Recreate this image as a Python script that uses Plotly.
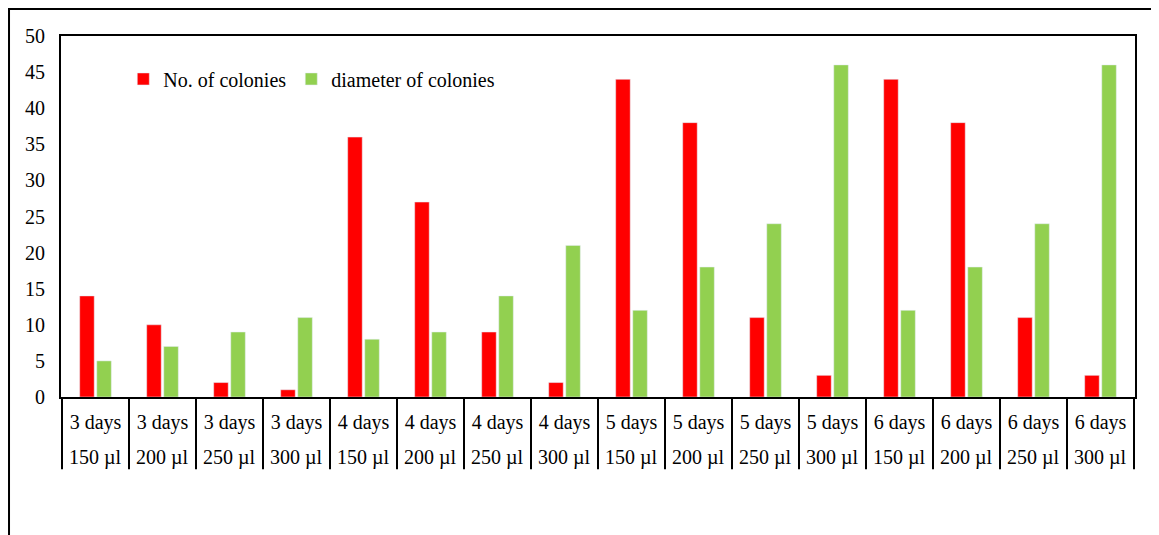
import plotly.graph_objects as go

days = ["3 days"] * 4 + ["4 days"] * 4 + ["5 days"] * 4 + ["6 days"] * 4
volumes = ["150 µl", "200 µl", "250 µl", "300 µl"] * 4
no_colonies = [14, 10, 2, 1, 36, 27, 9, 2, 44, 38, 11, 3, 44, 38, 11, 3]
diameter = [5, 7, 9, 11, 8, 9, 14, 21, 12, 18, 24, 46, 12, 18, 24, 46]
y_ticks = list(range(0, 51, 5))

cats = [f"{d} {v}" for d, v in zip(days, volumes)]
font = "Liberation Serif, Times New Roman, serif"

fig = go.Figure()
fig.add_trace(go.Bar(x=cats, y=no_colonies, name="No. of colonies", marker_color="#FF0000"))
fig.add_trace(go.Bar(x=cats, y=diameter, name="diameter of colonies", marker_color="#92D050"))

# category separators below the axis
shapes = []
for i in range(len(cats) + 1):
    shapes.append(dict(type="line", xref="x", yref="paper", x0=i - 0.5, x1=i - 0.5,
                       y0=0, y1=-0.2, line=dict(color="black", width=2)))
# outer chart frame
shapes.append(dict(type="rect", xref="paper", yref="paper", x0=-0.0484, x1=1.08,
                   y0=-0.6, y1=1.0748, line=dict(color="black", width=2)))

# second row of category labels
annotations = [dict(x=c, y=0, xref="x", yref="paper", text=v, showarrow=False,
                    yanchor="middle", yshift=-60,
                    font=dict(size=20, family=font, color="black"))
               for c, v in zip(cats, volumes)]

fig.update_layout(
    width=1159, height=535,
    margin=dict(l=53, r=32, t=28, b=146),
    plot_bgcolor="white", paper_bgcolor="white",
    font=dict(family=font, size=20, color="black"),
    barmode="group", bargap=0.49, bargroupgap=0.15,
    showlegend=True,
    legend=dict(orientation="h", x=0.058, y=0.881, xanchor="left", yanchor="middle",
                bgcolor="rgba(0,0,0,0)", font=dict(size=20, family=font), traceorder="normal"),
    shapes=shapes, annotations=annotations,
)
fig.update_xaxes(tickvals=cats, ticktext=days, showline=True, linecolor="black", linewidth=2,
                 mirror=True, ticks="outside", ticklen=6, tickcolor="rgba(0,0,0,0)",
                 showgrid=False, tickangle=0, tickfont=dict(family=font, size=20))
fig.update_yaxes(range=[0, 50], tickvals=y_ticks, showline=True, linecolor="black", linewidth=2,
                 mirror=True, ticks="outside", ticklen=10, tickcolor="rgba(0,0,0,0)",
                 showgrid=False, zeroline=False, tickfont=dict(family=font, size=20))

fig.write_html("out.html")
